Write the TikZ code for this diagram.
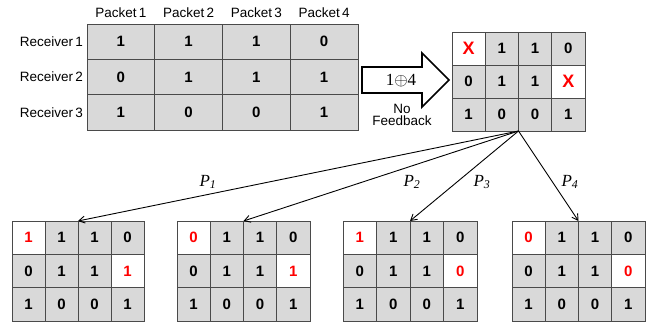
\documentclass[tikz,border=0pt]{standalone}
\usepackage{fontspec}
\setmainfont{Liberation Sans}
\newfontfamily\serifrm{Liberation Serif}
\usetikzlibrary{arrows.meta}
\definecolor{cellgray}{HTML}{D9D9D9}
\definecolor{gridline}{HTML}{4A4A4A}
\definecolor{hotred}{HTML}{FF0000}
\tikzset{
  basecell/.style={draw=gridline, line width=0.8pt, inner sep=0pt, outer sep=0pt,
    font=\fontsize{15}{15}\selectfont\bfseries},
  g/.style={basecell, fill=cellgray, text=black},
  h/.style={basecell, fill=white, text=hotred},
  lostcell/.style={h, font=\fontsize{18}{18}\selectfont\bfseries},
  colhead/.style={font=\fontsize{13.5}{13.5}\selectfont, inner sep=0pt},
  rowhead/.style={font=\fontsize{13.5}{13.5}\selectfont, inner sep=0pt, anchor=east},
  branch/.style={draw=black, line width=0.9pt, -{Straight Barb[length=6pt,width=7pt]}},
  plabel/.style={font=\serifrm\itshape\fontsize{17}{17}\selectfont, inner sep=0pt},
}
% cell tables: name, left, top, cell width, cell height, rows
\newcommand\celltable[6]{%
  \foreach \rw [count=\r] in {#6} {
    \foreach \s/\v [count=\c] in \rw {
      \node[\s, minimum width=#4pt, minimum height=#5pt]
        (#1-\r-\c) at ({#2+(\c-0.5)*#4}, {#3+(\r-0.5)*#5}) {\v};
    }
  }%
}
\begin{document}
\begin{tikzpicture}[x=1pt, y=-1pt]
  \useasboundingbox (0,0) rectangle (656,325);

  % source matrix with packet and receiver headings
  \celltable{S}{87}{24}{67.75}{35.33}{{g/1,g/1,g/1,g/0},{g/0,g/1,g/1,g/1},{g/1,g/0,g/0,g/1}}
  \foreach \c in {1,...,4}
    \node[colhead] (pk\c) at ({87+(\c-0.5)*67.75}, 13) {Packet\,\c};
  \foreach \r in {1,2,3}
    \node[rowhead] (rc\r) at (83, {24+(\r-0.5)*35.33}) {Receiver\,\r};

  % broadcast arrow (block arrow outline)
  \draw[line width=1.7pt, line join=miter, fill=white]
    (362,67) -- (422,67) -- (422,53) -- (449,80) -- (422,107) -- (422,93) -- (362,93) -- cycle;
  \node[font=\serifrm\fontsize{17}{17}\selectfont, inner sep=0pt] (xorlbl) at (401, 81) {1$\oplus$4};
  \node[font=\fontsize{13.5}{13.5}\selectfont, align=center, inner sep=0pt] (nofb) at (402, 114.5)
    {No\\[-1.5pt]Feedback};

  % erasure matrix after transmission
  \celltable{E}{452}{32}{33.25}{33}{{lostcell/X,g/1,g/1,g/0},{g/0,g/1,g/1,lostcell/X},{g/1,g/0,g/0,g/1}}
  \coordinate (fan) at (E-3-2.south east);

  % four possible decodings
  \celltable{D1}{12}{221}{33}{33.33}{{h/1,g/1,g/1,g/0},{g/0,g/1,g/1,h/1},{g/1,g/0,g/0,g/1}}
  \celltable{D2}{177}{221}{33.25}{33.33}{{h/0,g/1,g/1,g/0},{g/0,g/1,g/1,h/1},{g/1,g/0,g/0,g/1}}
  \celltable{D3}{343}{221}{33.5}{33.33}{{h/1,g/1,g/1,g/0},{g/0,g/1,g/1,h/0},{g/1,g/0,g/0,g/1}}
  \celltable{D4}{512}{221}{33.25}{33.33}{{h/0,g/1,g/1,g/0},{g/0,g/1,g/1,h/0},{g/1,g/0,g/0,g/1}}

  \draw[branch] (fan) -- (D1-1-2.north east);
  \draw[branch] (fan) -- (D2-1-2.north east);
  \draw[branch] (fan) -- (D3-1-2.north east);
  \draw[branch] (fan) -- (D4-1-2.north east);

  \node[plabel] (p1) at (208, 182) {P\textsubscript{1}};
  \node[plabel] (p2) at (412, 182) {P\textsubscript{2}};
  \node[plabel] (p3) at (482, 182) {P\textsubscript{3}};
  \node[plabel] (p4) at (570, 182) {P\textsubscript{4}};
\end{tikzpicture}
\end{document}
